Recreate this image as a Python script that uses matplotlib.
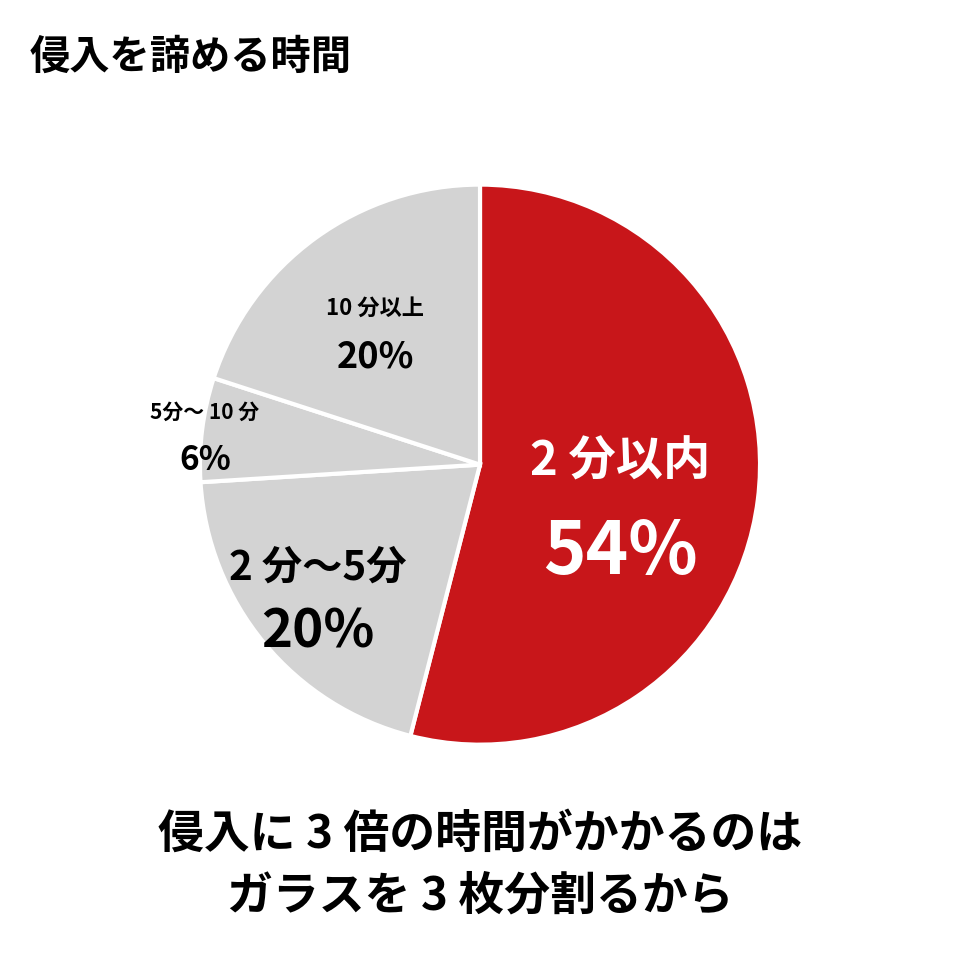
import matplotlib.pyplot as plt

plt.rcParams['font.family'] = ['Noto Sans CJK JP', 'DejaVu Sans']

labels = ["2 分以内", "2 分～5分", "5分～ 10 分", "10 分以上"]
values = [54, 20, 6, 20]
colors = ["#C8161A", "#D3D3D3", "#D3D3D3", "#D3D3D3"]

fig = plt.figure(figsize=(9.6, 9.6), dpi=100)
ax = fig.add_axes([0.5 - 0.2917, 0.516 - 0.2917, 0.5834, 0.5834])
ax.pie(values, colors=colors, startangle=90, counterclock=False,
       wedgeprops=dict(edgecolor="white", linewidth=3))
ax.set_xlim(-1.0, 1.0)
ax.set_ylim(-1.0, 1.0)
ax.set_aspect("equal")

def px(x, y):
    return x / 960, 1 - y / 960

# label positions (px), sizes
specs = [
    ((620, 462), (620, 553), 34, 52, "white"),
    ((318, 568), (318, 632), 29, 38, "black"),
    ((205, 412), (205, 460), 15, 24, "black"),
    ((375, 308), (375, 357), 16, 26, "black"),
]
for lab, v, (p1, p2, s1, s2, c) in zip(labels, values, specs):
    fig.text(*px(*p1), lab, ha="center", va="center", fontsize=s1, color=c, fontweight="bold")
    fig.text(*px(*p2), f"{v}%", ha="center", va="center", fontsize=s2, color=c, fontweight="bold")

fig.text(*px(30, 57), "侵入を諦める時間", ha="left", va="center", fontsize=29, fontweight="bold")
fig.text(*px(480, 835), "侵入に 3 倍の時間がかかるのは", ha="center", va="center", fontsize=33, fontweight="bold")
fig.text(*px(480, 897), "ガラスを 3 枚分割るから", ha="center", va="center", fontsize=33, fontweight="bold")

fig.savefig("out.png", dpi=100)
